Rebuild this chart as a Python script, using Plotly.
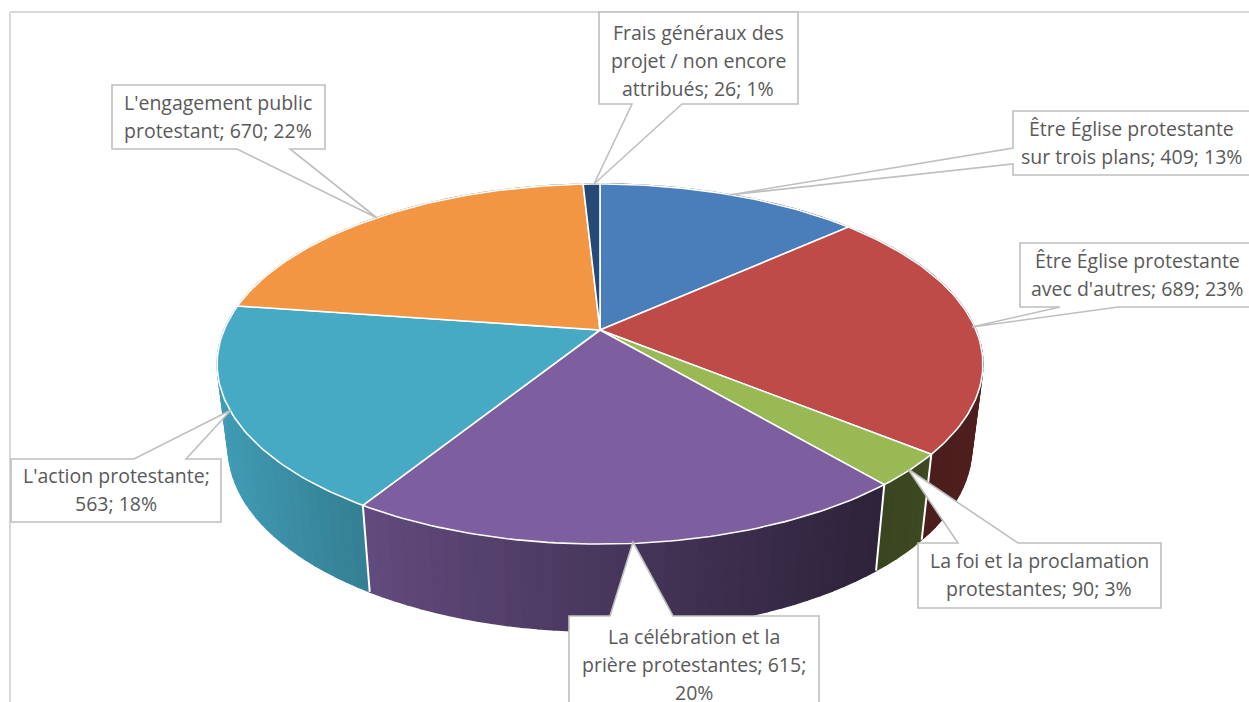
import math
import textwrap
import numpy as np
import plotly.graph_objects as go

# ---- data ----
categories = [
    "Être Église protestante sur trois plans",
    "Être Église protestante avec d'autres",
    "La foi et la proclamation protestantes",
    "La célébration et la prière protestantes",
    "L'action protestante",
    "L'engagement public protestant",
    "Frais généraux des projet / non encore attribués",
]
values = [409, 689, 90, 615, 563, 670, 26]
colors = ["#4a7ebb", "#be4b48", "#98b954", "#7d5fa0", "#46aac5", "#f39643", "#254a76"]
wrap_widths = [25, 23, 25, 25, 24, 22, 19]

# ---- projection of the tilted disc onto the canvas ----
CX, CY = 600, 330
A, B, K = 376.0, 173.6, 0.189
BOTTOM_CY, BOTTOM_SX, BOTTOM_SY = 413.0, 0.971, 1.02


def top(theta):
    d = 1 + K * np.cos(theta)
    return CX + A * np.sin(theta) / d, CY - B * np.cos(theta) / d


def bottom(theta):
    x, y = top(theta)
    return CX + (x - CX) * BOTTOM_SX, BOTTOM_CY + (y - CY) * BOTTOM_SY


def shade(hex_color, x):
    f = float(np.interp(x, [220, 370, 372, 600, 870, 985], [0.92, 0.74, 0.78, 0.58, 0.37, 0.42]))
    r, g, b = (int(hex_color[i:i + 2], 16) for i in (1, 3, 5))
    return f"rgb({r * f:.0f},{g * f:.0f},{b * f:.0f})"


total = sum(values)
edges = 2 * math.pi * np.concatenate([[0], np.cumsum(values)]) / total

fig = go.Figure()


def poly(xs, ys, fill, line_color, line_width):
    fig.add_trace(go.Scatter(
        x=list(xs), y=list(ys), mode="lines", fill="toself", fillcolor=fill,
        line=dict(color=line_color, width=line_width), hoverinfo="skip", showlegend=False,
    ))


# side wall, back to front
quads = []
for i, color in enumerate(colors):
    n = max(2, int((edges[i + 1] - edges[i]) / math.radians(2)))
    ts = np.linspace(edges[i], edges[i + 1], n + 1)
    for t0, t1 in zip(ts[:-1], ts[1:]):
        quads.append((math.cos((t0 + t1) / 2), t0, t1, color))
quads.sort(key=lambda q: -q[0])
for _, t0, t1, color in quads:
    x0, y0 = top(t0)
    x1, y1 = top(t1)
    x2, y2 = bottom(t1)
    x3, y3 = bottom(t0)
    c = shade(color, (x0 + x1 + x2 + x3) / 4)
    poly([x0, x1, x2, x3, x0], [y0, y1, y2, y3, y0], c, c, 1.4)

# white dividers on the wall
for e in edges:
    x0, y0 = top(e)
    x1, y1 = bottom(e)
    fig.add_trace(go.Scatter(x=[x0, x1], y=[y0, y1], mode="lines",
                             line=dict(color="white", width=2),
                             hoverinfo="skip", showlegend=False))

# top face
for i, color in enumerate(colors):
    ts = np.linspace(edges[i], edges[i + 1], max(3, int((edges[i + 1] - edges[i]) / math.radians(1))))
    xs, ys = top(ts)
    poly([CX, *xs, CX], [CY, *ys, CY], color, "white", 1.6)

# ---- callouts: box (x0, y0, x1, y1), side of the wedge, wedge base, tip, text centre ----
callouts = [
    ((1013, 111, 1262, 175), "left", (164, 148), (729, 195), 1131),
    ((1020, 243, 1262, 307), "bottom", (1118, 1060), (972, 327), 1137),
    ((918, 543, 1161, 608), "top", (958, 1018), (908, 469), 1039),
    ((569, 616, 819, 730), "top", (610, 673), (633, 542), 694),
    ((11, 459, 221, 522), "top", (134, 186), (231, 410), 116),
    ((112, 85, 325, 149), "bottom", (290, 237), (377, 218), 218),
    ((599, 12, 798, 104), "bottom", (682, 632), (594, 184), 698),
]
BOX_LINE = "#bfbfbf"
TEXT = "#595959"
LINE_H = 28
shapes = [
    dict(type="line", xref="x", yref="y", x0=10, y0=12, x1=1249, y1=12,
         line=dict(color="#d9d9d9", width=2), layer="below"),
    dict(type="line", xref="x", yref="y", x0=10, y0=12, x1=10, y1=702,
         line=dict(color="#d9d9d9", width=2), layer="below"),
]
annotations = []
for cat, val, width, (box, side, base, tip, tx) in zip(categories, values, wrap_widths, callouts):
    x0, y0, x1, y1 = box
    a, b = base
    path = f"M{x0},{y0} "
    if side == "top":
        path += f"L{a},{y0} L{tip[0]},{tip[1]} L{b},{y0} "
    path += f"L{x1},{y0} L{x1},{y1} "
    if side == "bottom":
        path += f"L{a},{y1} L{tip[0]},{tip[1]} L{b},{y1} "
    path += f"L{x0},{y1} "
    if side == "left":
        path += f"L{x0},{a} L{tip[0]},{tip[1]} L{x0},{b} "
    path += "Z"
    shapes.append(dict(type="path", xref="x", yref="y", path=path, fillcolor="white",
                       line=dict(color=BOX_LINE, width=1.6), layer="above"))
    label = f"{cat}; {val}; {round(100 * val / total)}%"
    lines = textwrap.wrap(label, width)
    first_y = y0 + 20 if len(lines) >= 3 else (y0 + y1) / 2 - LINE_H * (len(lines) - 1) / 2 - 1
    for j, line in enumerate(lines):
        annotations.append(dict(
            x=tx, y=first_y + j * LINE_H, xref="x", yref="y", text=line, showarrow=False,
            xanchor="center", yanchor="middle",
            font=dict(family="Open Sans", size=19.5, color=TEXT),
        ))

fig.update_layout(
    width=1249, height=702, margin=dict(l=0, r=0, t=0, b=0),
    paper_bgcolor="white", plot_bgcolor="white", showlegend=False,
    xaxis=dict(range=[0, 1249], visible=False, fixedrange=True),
    yaxis=dict(range=[702, 0], visible=False, fixedrange=True),
    shapes=shapes, annotations=annotations,
)
fig.write_html("out.html", config={"displayModeBar": False},
               post_script="document.body.style.margin='0';document.body.style.overflow='hidden';")
